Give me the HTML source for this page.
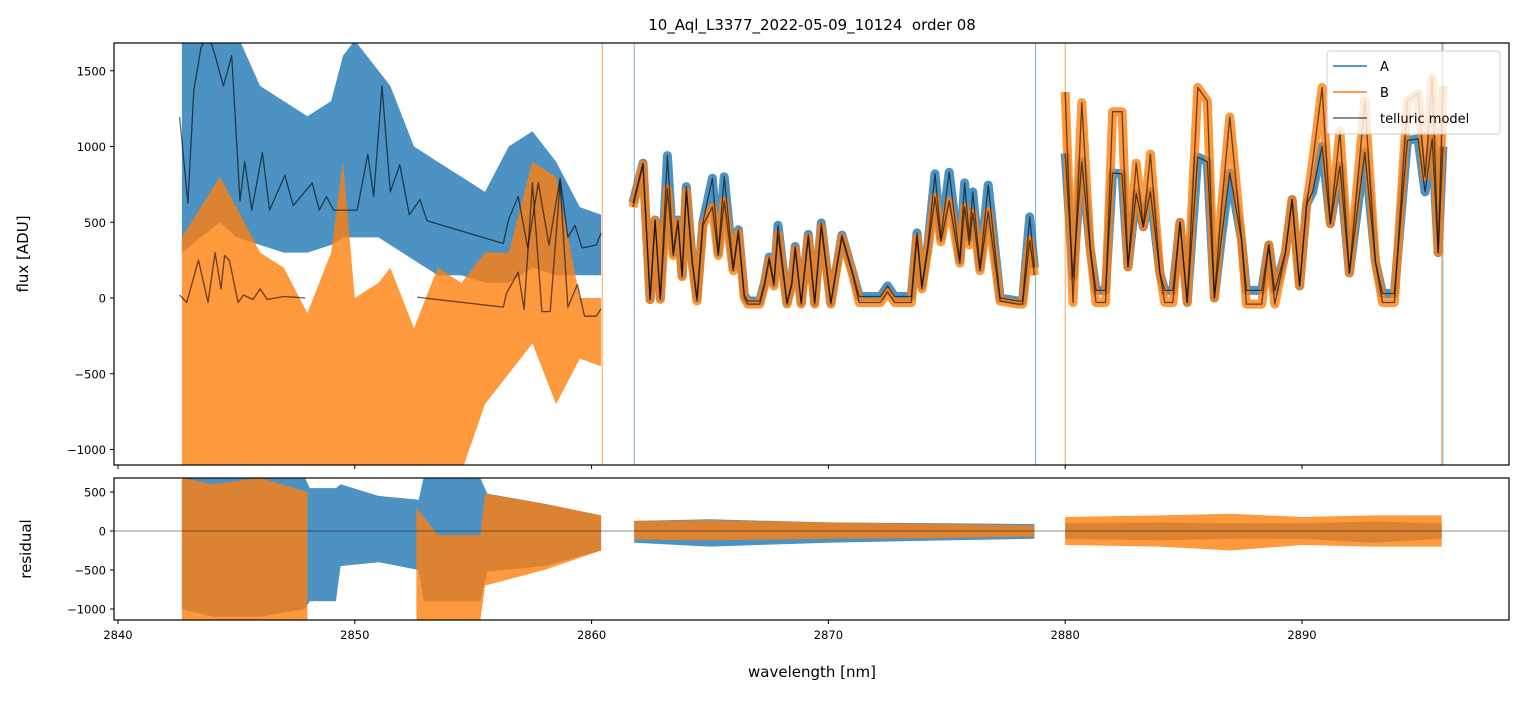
<!DOCTYPE html>
<html><head><meta charset="utf-8">
<style>
body{margin:0;background:#fff;font-family:"Liberation Sans","DejaVu Sans",sans-serif;}
svg text{font-family:"DejaVu Sans","Liberation Sans",sans-serif;}
</style></head>
<body>
<svg id="chart" width="1523" height="696" viewBox="0 0 1523 696" xmlns="http://www.w3.org/2000/svg">
<defs>
<clipPath id="clipTop"><rect x="114" y="43" width="1395" height="422"/></clipPath>
<clipPath id="clipRes"><rect x="114" y="478" width="1395" height="142"/></clipPath>
</defs>
<rect width="1523" height="696" fill="#fff"/>
<text x="812" y="30" font-size="15" text-anchor="middle" xml:space="preserve">10_Aql_L3377_2022-05-09_10124  order 08</text>
<g id="topPlot" clip-path="url(#clipTop)"></g>
<g id="resPlot" clip-path="url(#clipRes)"></g>
<rect x="114" y="43" width="1395" height="422" fill="none" stroke="#000" stroke-width="1.2"/>
<rect x="114" y="478" width="1395" height="142" fill="none" stroke="#000" stroke-width="1.2"/>
<g id="axes"></g>
<text transform="translate(28,254) rotate(-90)" font-size="15" text-anchor="middle">flux [ADU]</text>
<text transform="translate(31,549) rotate(-90)" font-size="15" text-anchor="middle">residual</text>
<text x="812" y="677" font-size="15" text-anchor="middle">wavelength [nm]</text>
<g>
<rect x="1327" y="51" width="173" height="83" rx="3" fill="#fff" fill-opacity="0.8" stroke="#ccc"/>
<line x1="1333" y1="66" x2="1367" y2="66" stroke="#1f77b4" stroke-width="1.5"/>
<text x="1380" y="71" font-size="13">A</text>
<line x1="1333" y1="92" x2="1367" y2="92" stroke="#ff7f0e" stroke-width="1.5"/>
<text x="1380" y="97" font-size="13">B</text>
<line x1="1333" y1="118" x2="1367" y2="118" stroke="#000" stroke-opacity="0.6" stroke-width="1.5"/>
<text x="1380" y="123" font-size="13">telluric model</text>
</g>
</svg>
<script>
// ---- data ----
const xTicks = [2840, 2850, 2860, 2870, 2880, 2890];
const yTicksTop = [1500, 1000, 500, 0, -500, -1000];
const yTickLabelsTop = ["1500", "1000", "500", "0", "\u2212500", "\u22121000"];
const yTicksRes = [500, 0, -500, -1000];
const yTickLabelsRes = ["500", "0", "\u2212500", "\u22121000"];

const wlL = [2842.7,2843.5,2844.3,2845,2846,2847,2848,2849,2849.5,2850,2851,2851.5,2852.5,2853.5,2854.5,2855.5,2856.5,2857.5,2858.5,2859.5,2860.4];
const aHiL = [1750,1750,1750,1750,1400,1300,1200,1300,1600,1700,1500,1400,1000,900,800,700,1000,1100,900,600,550];
const aLoL = [300,400,500,400,350,300,300,350,400,400,400,350,250,150,150,100,100,200,150,150,150];
const bHiL = [400,600,800,600,300,200,-100,300,900,0,100,200,-200,200,100,300,300,900,800,0,0];
const bLoL = [-1150,-1150,-1150,-1150,-1150,-1150,-1150,-1150,-1150,-1100,-1100,-1100,-1150,-1150,-1150,-700,-500,-300,-700,-400,-450];

const wlModAL = [2842.6,2842.95,2843.2,2843.5,2843.8,2844.1,2844.45,2844.8,2845.15,2845.35,2845.65,2846.1,2846.4,2847.05,2847.4,2848.2,2848.5,2848.8,2849.1,2850.1,2850.55,2850.8,2851.15,2851.5,2851.9,2852.3,2852.75,2853.05,2856.27,2856.5,2856.9,2857.3,2857.75,2858.2,2858.67,2859.0,2859.3,2859.6,2860.2,2860.4];
const modAL = [1195,625,1370,1650,1750,1600,1400,1600,640,900,580,960,580,810,610,760,580,670,580,580,950,670,1400,700,880,550,650,510,360,520,670,330,760,350,790,400,480,330,350,430];
const wlModBL1 = [2842.6,2842.9,2843.4,2843.8,2844.1,2844.35,2844.5,2844.7,2845.07,2845.3,2845.7,2846.0,2846.3,2847.0,2847.9];
const modBL1 = [20,-30,250,-30,300,60,280,250,-30,20,-10,60,-10,10,0];
const wlModBL2 = [2852.63,2856.27,2856.4,2856.9,2857.15,2857.5,2857.9,2858.25,2858.67,2859.0,2859.4,2859.7,2860.2,2860.4];
const modBL2 = [5,-60,30,170,-75,760,-90,-90,760,-60,90,-120,-120,-70];

const wl1 = [2861.75,2862.17,2862.47,2862.68,2862.9,2863.2,2863.45,2863.65,2863.82,2864.0,2864.25,2864.45,2864.7,2865.1,2865.35,2865.6,2865.98,2866.2,2866.45,2866.6,2867.1,2867.3,2867.5,2867.7,2867.87,2868.25,2868.45,2868.6,2868.85,2869.15,2869.42,2869.7,2870.1,2870.57,2871.03,2871.3,2872.2,2872.5,2872.8,2873.5,2873.74,2873.95,2874.2,2874.5,2874.75,2875.1,2875.55,2875.75,2875.95,2876.1,2876.4,2876.75,2877.25,2878.0,2878.2,2878.5,2878.7];
const modA1 = [627,890,-10,515,0,940,300,515,150,735,250,0,500,790,300,800,200,450,20,-20,-20,100,270,100,480,-30,100,340,-30,420,-30,495,-30,415,165,10,10,80,10,10,430,80,350,820,400,830,250,760,400,700,200,745,0,-20,-20,535,200];
const modB1 = [600,880,-10,510,-10,720,280,500,140,700,230,-20,480,600,280,640,180,430,0,-40,-40,80,250,80,420,-40,80,320,-40,400,-40,470,-40,400,150,-30,-30,40,-30,-30,400,60,320,665,370,640,230,600,350,560,180,570,-20,-40,-40,380,150];

const wl2 = [2880.0,2880.33,2880.7,2881.05,2881.3,2881.7,2882.0,2882.4,2882.65,2883.0,2883.3,2883.6,2884.0,2884.2,2884.55,2884.85,2885.15,2885.6,2886.0,2886.3,2886.6,2886.95,2887.45,2887.65,2888.3,2888.6,2888.85,2889.3,2889.58,2889.9,2890.2,2890.45,2890.85,2891.2,2891.6,2892.0,2892.65,2893.1,2893.4,2893.9,2894.45,2894.9,2895.2,2895.5,2895.75,2895.95];
const modA2 = [955,140,900,335,50,50,825,820,205,690,470,700,165,50,50,500,-30,930,900,0,400,825,380,50,50,350,50,300,650,80,620,700,1000,490,870,165,960,240,30,30,1040,1050,700,1050,300,1000];
const modB2 = [1360,-30,1290,335,-30,-30,1230,1230,205,890,470,950,165,-30,-30,500,-30,1390,1300,0,600,1195,380,-40,-40,350,-40,300,650,80,620,900,1390,490,1100,165,1300,240,-30,-30,1300,1350,800,1450,300,1400];

// residual bands
const wlRAL = [2842.7,2844,2846,2847.9,2848.1,2849.2,2849.4,2851,2852.7,2852.9,2855.3,2855.6,2858,2860.4];
const raHiL = [680,680,680,680,550,550,600,450,400,680,680,480,350,200];
const raLoL = [-1000,-1100,-1100,-1000,-900,-900,-450,-400,-500,-900,-900,-520,-450,-250];
const wlRBL1 = [2842.7,2844,2846,2848];
const rbHiL1 = [680,600,680,500];
const rbLoL1 = [-1150,-1150,-1150,-1150];
const wlRBL2 = [2852.6,2853.5,2855.3,2855.5,2858,2860.4];
const rbHiL2 = [300,-50,-50,480,350,200];
const rbLoL2 = [-1150,-1150,-1150,-700,-500,-250];
const wlRR1 = [2861.8,2865,2870,2875,2878.7];
const raHiR1 = [130,150,110,100,90];
const raLoR1 = [-150,-200,-150,-120,-100];
const rbHiR1 = [130,140,110,90,70];
const rbLoR1 = [-110,-120,-100,-90,-70];
const wlRR2 = [2880,2884,2887,2890,2893,2895.9];
const raHiR2 = [100,110,100,100,120,100];
const raLoR2 = [-100,-120,-100,-100,-150,-100];
const rbHiR2 = [180,200,220,180,200,200];
const rbLoR2 = [-180,-200,-250,-180,-200,-200];

const spikeA = [2861.8, 2878.75, 2895.95];
const spikeB = [2860.45, 2880.0, 2895.9];

// ---- scales ----
const NS = "http://www.w3.org/2000/svg";
function xs(w){ return 118 + (w - 2840) * 23.68; }
function yT(v){ return 298 - v * 0.1515; }
function yR(v){ return 531 - v * 0.078; }
function mk(parent, tag, attrs){
  const node = document.createElementNS(NS, tag);
  for (const k in attrs) node.setAttribute(k, attrs[k]);
  parent.appendChild(node);
  return node;
}
function linePts(wl, vals, ys){ return wl.map((w,i)=>xs(w).toFixed(1)+","+ys(vals[i]).toFixed(1)).join(" "); }
function bandPts(wl, hi, lo, ys){
  const up = wl.map((w,i)=>xs(w).toFixed(1)+","+ys(hi[i]).toFixed(1));
  const dn = wl.map((w,i)=>xs(w).toFixed(1)+","+ys(lo[i]).toFixed(1)).reverse();
  return up.concat(dn).join(" ");
}
const gTop = document.getElementById("topPlot");
const gRes = document.getElementById("resPlot");
const gAxes = document.getElementById("axes");
const CA = "#1f77b4", CB = "#ff7f0e";

let el;
el = mk(gTop, "polygon", {points: bandPts(wlL, aHiL, aLoL, yT), fill: CA, "fill-opacity": 0.8});


[[wl1, modA1],[wl2, modA2]].forEach(([w,v])=>{
  el = mk(gTop, "polyline", {points: linePts(w, v, yT), fill: "none", stroke: CA, "stroke-opacity": 0.8, "stroke-width": 9, "stroke-linejoin": "round"});
  
  
});
spikeA.forEach(w=>{
  el = mk(gTop, "line", {x1: xs(w), x2: xs(w), y1: 43, y2: 465, stroke: CA, "stroke-opacity": 0.6, "stroke-width": 1});
  
  
});
el = mk(gTop, "polygon", {points: bandPts(wlL, bHiL, bLoL, yT), fill: CB, "fill-opacity": 0.8});


[[wl1, modB1],[wl2, modB2]].forEach(([w,v])=>{
  el = mk(gTop, "polyline", {points: linePts(w, v, yT), fill: "none", stroke: CB, "stroke-opacity": 0.8, "stroke-width": 9, "stroke-linejoin": "round"});
  
  
});
spikeB.forEach(w=>{
  el = mk(gTop, "line", {x1: xs(w), x2: xs(w), y1: 43, y2: 465, stroke: CB, "stroke-opacity": 0.7, "stroke-width": 1});
  
  
});
[[wlModAL, modAL],[wlModBL1, modBL1],[wlModBL2, modBL2],[wl1, modA1],[wl1, modB1],[wl2, modA2],[wl2, modB2]].forEach(([w,v])=>{
  el = mk(gTop, "polyline", {points: linePts(w, v, yT), fill: "none", stroke: "#000", "stroke-opacity": 0.6, "stroke-width": 1.3, "stroke-linejoin": "round"});
  
  
});

[[wlRAL, raHiL, raLoL, CA, 'residual-a-left-band'],
 [wlRR1, raHiR1, raLoR1, CA, 'residual-a-seg1-band'],
 [wlRR2, raHiR2, raLoR2, CA, 'residual-a-seg2-band'],
 [wlRBL1, rbHiL1, rbLoL1, CB, 'residual-b-left-band-1'],
 [wlRBL2, rbHiL2, rbLoL2, CB, 'residual-b-left-band-2'],
 [wlRR1, rbHiR1, rbLoR1, CB, 'residual-b-seg1-band'],
 [wlRR2, rbHiR2, rbLoR2, CB, 'residual-b-seg2-band']].forEach(([w,h,l,c,n])=>{
  el = mk(gRes, "polygon", {points: bandPts(w, h, l, yR), fill: c, "fill-opacity": 0.8});
  
  
});
el = mk(gRes, "line", {x1: 114, x2: 1509, y1: yR(0), y2: yR(0), stroke: "#000", "stroke-opacity": 0.6, "stroke-width": 0.7});



xTicks.forEach(t=>{
  const x = xs(t);
  mk(gAxes, "line", {x1: x, x2: x, y1: 465, y2: 469, stroke: "#000"});
  mk(gAxes, "line", {x1: x, x2: x, y1: 620, y2: 624, stroke: "#000"});
  el = mk(gAxes, "text", {x: x, y: 639, "font-size": 11.5, "text-anchor": "middle"});
  el.textContent = String(t);
  
  
});
yTicksTop.forEach((t,i)=>{
  const y = yT(t);
  mk(gAxes, "line", {x1: 110, x2: 114, y1: y, y2: y, stroke: "#000"});
  el = mk(gAxes, "text", {x: 106, y: y + 4.5, "font-size": 11.5, "text-anchor": "end"});
  el.textContent = yTickLabelsTop[i];
  
  
});
yTicksRes.forEach((t,i)=>{
  const y = yR(t);
  mk(gAxes, "line", {x1: 110, x2: 114, y1: y, y2: y, stroke: "#000"});
  el = mk(gAxes, "text", {x: 106, y: y + 4.5, "font-size": 11.5, "text-anchor": "end"});
  el.textContent = yTickLabelsRes[i];
  
  
});
</script>
</body></html>
